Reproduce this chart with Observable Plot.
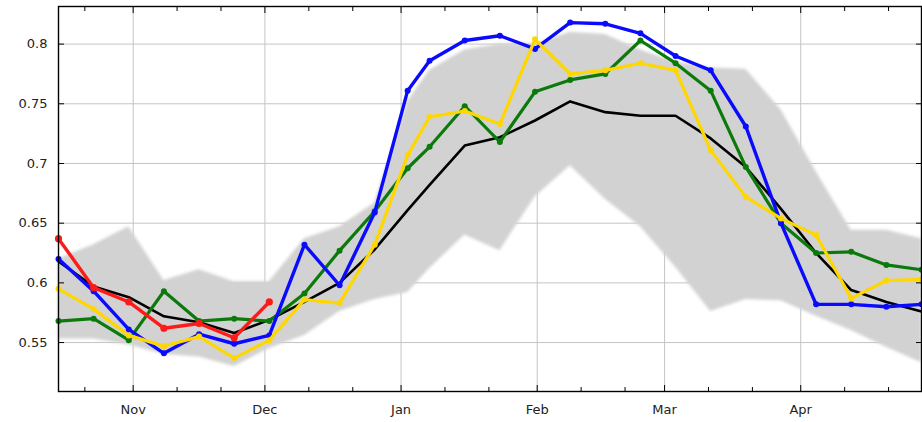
<!DOCTYPE html>
<html>
<head>
<meta charset="utf-8">
<script src="https://cdn.jsdelivr.net/npm/d3@7"></script>
<script src="https://cdn.jsdelivr.net/npm/@observablehq/plot@0.6"></script>
<style>
  html, body { margin: 0; padding: 0; background: #fff; }
  #chart svg { display: block; }
</style>
</head>
<body>
<div id="chart"></div>
<script>
// 8-day composite dates (autumn 2011 -> spring 2012)
const dates = [
  "2011-10-15","2011-10-23","2011-10-31","2011-11-08","2011-11-16","2011-11-24",
  "2011-12-02","2011-12-10","2011-12-18","2011-12-26","2012-01-02T12:00Z",
  "2012-01-07T12:00Z","2012-01-15T12:00Z","2012-01-23T12:00Z","2012-01-31T12:00Z",
  "2012-02-08T12:00Z","2012-02-16T12:00Z","2012-02-24T12:00Z","2012-03-03T12:00Z",
  "2012-03-11T12:00Z","2012-03-19T12:00Z","2012-03-27T12:00Z","2012-04-04T12:00Z",
  "2012-04-12T12:00Z","2012-04-20T12:00Z","2012-04-28T12:00Z"
];
const bandUpper = [0.620,0.632,0.647,0.602,0.611,0.601,0.601,0.637,0.647,0.667,0.752,0.778,0.795,0.800,0.800,0.810,0.808,0.795,0.785,0.780,0.779,0.745,0.693,0.644,0.644,0.637];
const bandLower = [0.553,0.553,0.548,0.540,0.538,0.530,0.545,0.556,0.576,0.586,0.592,0.612,0.640,0.627,0.672,0.698,0.670,0.647,0.613,0.576,0.586,0.585,0.572,0.560,0.546,0.533];
const meanSeries   = [0.618,0.597,0.588,0.572,0.567,0.558,0.569,0.584,0.600,0.628,0.661,0.682,0.715,0.722,0.736,0.752,0.743,0.740,0.740,0.721,0.697,0.662,0.625,0.594,0.584,0.576];
const blueSeries   = [0.620,0.593,0.561,0.541,0.557,0.549,0.556,0.632,0.598,0.659,0.761,0.786,0.803,0.807,0.796,0.818,0.817,0.809,0.790,0.778,0.731,0.650,0.582,0.582,0.580,0.582];
const greenSeries  = [0.568,0.570,0.552,0.593,0.568,0.570,0.568,0.591,0.627,0.660,0.696,0.714,0.748,0.718,0.760,0.770,0.775,0.803,0.784,0.761,0.697,0.650,0.625,0.626,0.615,0.611];
const yellowSeries = [0.595,0.578,0.556,0.547,0.555,0.537,0.552,0.586,0.583,0.632,0.707,0.739,0.744,0.733,0.804,0.775,0.778,0.784,0.778,0.711,0.672,0.654,0.640,0.587,0.602,0.603];
const redSeries    = [0.637,0.596,0.584,0.562,0.566,0.554,0.584];

const yTicks = [0.55, 0.6, 0.65, 0.7, 0.75, 0.8];
const yTickLabels = ["0.55", "0.6", "0.65", "0.7", "0.75", "0.8"];
const monthTicks = ["2011-11-01","2011-12-01","2012-01-01","2012-02-01","2012-03-01","2012-04-01"];
const monthLabels = ["Nov","Dec","Jan","Feb","Mar","Apr"];
const minorTicks = ["2011-10-21","2011-11-11","2011-11-21","2011-12-11","2011-12-21",
  "2012-01-11","2012-01-21","2012-02-11","2012-02-21","2012-03-11","2012-03-21",
  "2012-04-11","2012-04-21"];
const yDomain = [0.509, 0.8315];

const T = dates.map(d => new Date(d));
const monthT = monthTicks.map(d => new Date(d));
const minorT = minorTicks.map(d => new Date(d));

const band = T.map((t, i) => ({t, lo: bandLower[i], hi: bandUpper[i]}));
const mk = arr => arr.map((v, i) => ({t: T[i], v}));
const mean = mk(meanSeries), blue = mk(blueSeries), green = mk(greenSeries),
      yellow = mk(yellowSeries), red = mk(redSeries);

const C = {blue: "#0a0aff", green: "#0b7a0b", yellow: "#ffd700", red: "#ff1a1a"};
const font = "DejaVu Sans";

const monthFmt = d => monthLabels[monthT.findIndex(m => +m === +d)];
const yFmt = d => yTickLabels[yTicks.indexOf(d)];
const tickOpts = {tickFormat: () => "", stroke: "#000", label: null};

const chart = Plot.plot({
  width: 922,
  height: 422,
  marginLeft: 58,
  marginRight: 1,
  marginTop: 6,
  marginBottom: 31,
  style: {fontFamily: font, fontSize: "13px", color: "#222", background: "#fff"},
  x: {type: "utc", domain: [T[0], T[T.length - 1]], label: null},
  y: {domain: yDomain, label: null},
  marks: [
    Plot.gridX(monthT, {stroke: "#c4c4c4", strokeOpacity: 1, strokeWidth: 1}),
    Plot.gridY(yTicks, {stroke: "#c4c4c4", strokeOpacity: 1, strokeWidth: 1}),
    Plot.areaY(band, {x: "t", y1: "lo", y2: "hi", fill: "#d2d2d2", fillOpacity: 1, imageFilter: "blur(1.5px)"}),
    Plot.line(mean, {x: "t", y: "v", stroke: "#000", strokeWidth: 2.6}),
    Plot.line(green, {x: "t", y: "v", stroke: C.green, strokeWidth: 3.2}),
    Plot.dot(green, {x: "t", y: "v", fill: C.green, r: 3}),
    Plot.line(blue, {x: "t", y: "v", stroke: C.blue, strokeWidth: 3.4}),
    Plot.dot(blue, {x: "t", y: "v", fill: C.blue, r: 3}),
    Plot.line(yellow, {x: "t", y: "v", stroke: C.yellow, strokeWidth: 3.2}),
    Plot.dot(yellow, {x: "t", y: "v", fill: C.yellow, r: 3}),
    Plot.line(red, {x: "t", y: "v", stroke: C.red, strokeWidth: 3.4}),
    Plot.dot(red, {x: "t", y: "v", fill: C.red, r: 3.6}),
    // inward ticks
    Plot.axisX(monthT, {anchor: "bottom", tickSize: -6, ...tickOpts}),
    Plot.axisX(minorT, {anchor: "bottom", tickSize: -4, ...tickOpts}),
    Plot.axisX(monthT, {anchor: "top", tickSize: -6, ...tickOpts}),
    Plot.axisX(minorT, {anchor: "top", tickSize: -4, ...tickOpts}),
    Plot.axisY(yTicks, {anchor: "left", tickSize: -6, ...tickOpts}),
    Plot.axisY(yTicks, {anchor: "right", tickSize: -6, ...tickOpts}),
    // labels
    Plot.axisX(monthT, {anchor: "bottom", tickSize: 0, tickPadding: 13, tickFormat: monthFmt, fill: "#222", fontSize: 13, label: null}),
    Plot.axisY(yTicks, {anchor: "left", tickSize: 0, tickPadding: 11, tickFormat: yFmt, fill: "#222", fontSize: 13, label: null}),
    Plot.frame({stroke: "#000", strokeWidth: 1.4})
  ]
});
document.getElementById("chart").appendChild(chart);
</script>
</body>
</html>
